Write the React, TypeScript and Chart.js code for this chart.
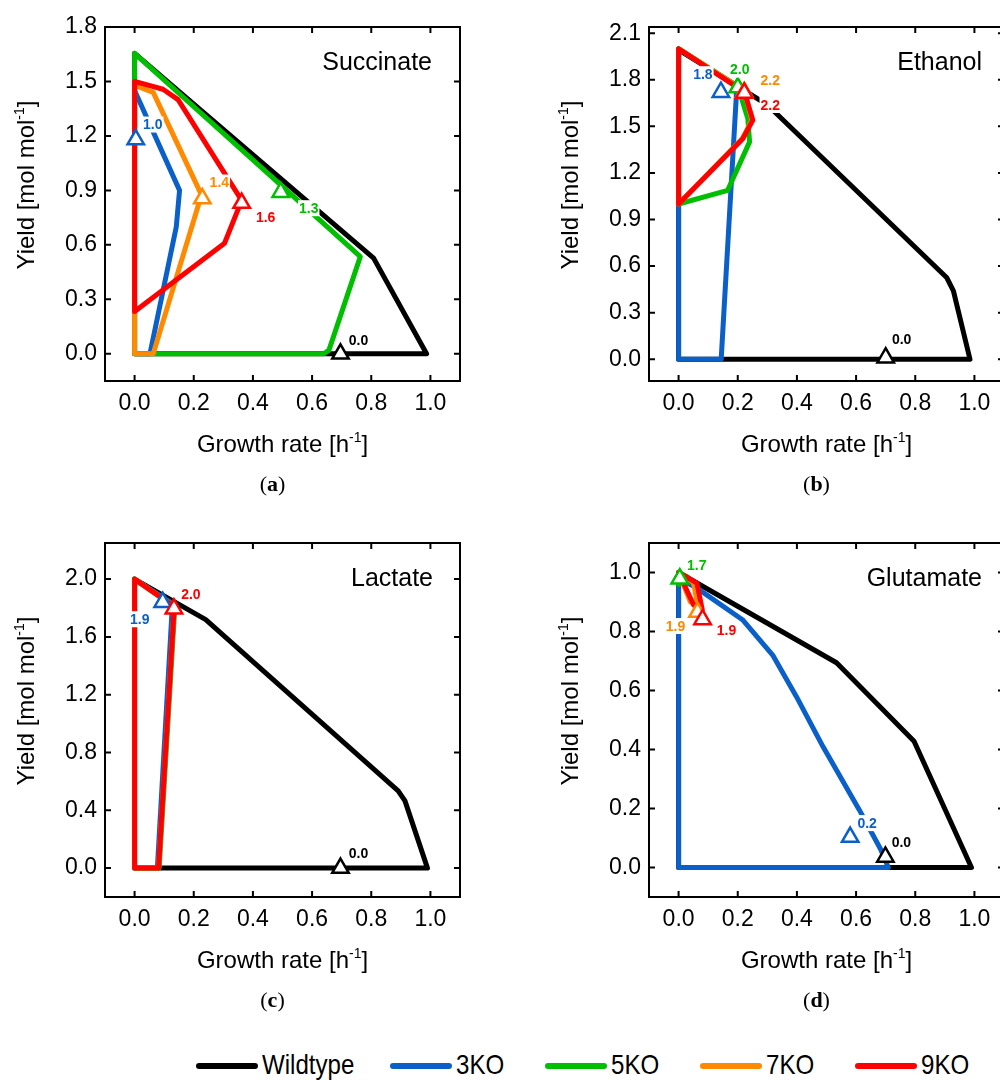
import React, { useEffect, useRef } from "react";
import { Chart, registerables } from "chart.js";
Chart.register(...registerables);

const FONT = '"Liberation Sans", Arial, Helvetica, sans-serif';
const SERIF = '"Liberation Serif", "Times New Roman", serif';

const SERIES_NAMES = ["Wildtype", "3KO", "5KO", "7KO", "9KO"];
const SERIES_COLORS = ["#000000", "#0a60c8", "#00be00", "#ff8a00", "#ff0000"];
const X_TICKS = [0, 0.2, 0.4, 0.6, 0.8, 1.0];

// (a) Succinate
const SUC_Y_TICKS = [0, 0.3, 0.6, 0.9, 1.2, 1.5, 1.8];
const SUC_WT = [[0, 0], [0, 1.655], [0.808, 0.527], [0.987, 0], [0, 0]];
const SUC_3KO = [[0, 0], [0, 1.45], [0.152, 0.9], [0.141, 0.7], [0.052, 0], [0, 0]];
const SUC_5KO = [[0, 0], [0, 1.655], [0.763, 0.535], [0.657, 0.02], [0.64, 0], [0, 0]];
const SUC_7KO = [[0, 0], [0, 1.48], [0.063, 1.44], [0.226, 0.875], [0.063, 0], [0, 0]];
const SUC_9KO = [[0, 0.233], [0, 1.5], [0.096, 1.457], [0.147, 1.4], [0.362, 0.845], [0.304, 0.609], [0, 0.233]];
const SUC_MARKERS = [[0.696, 0], [0.004, 1.18], [0.494, 0.89], [0.229, 0.855], [0.362, 0.83]];
const SUC_MARK_TEXT = ["0.0", "1.0", "1.3", "1.4", "1.6"];

// (b) Ethanol
const ETH_Y_TICKS = [0, 0.3, 0.6, 0.9, 1.2, 1.5, 1.8, 2.1];
const ETH_WT = [[0, 0], [0, 1.993], [0.298, 1.642], [0.906, 0.527], [0.929, 0.44], [0.985, 0], [0, 0]];
const ETH_3KO = [[0, 0], [0, 2.0], [0.195, 1.76], [0.195, 1.69], [0.144, 0], [0, 0]];
const ETH_5KO = [[0, 1.0], [0, 2.0], [0.2, 1.76], [0.234, 1.55], [0.24, 1.4], [0.166, 1.088], [0, 1.0]];
const ETH_7KO = [[0, 1.0], [0, 2.0], [0.222, 1.73], [0.248, 1.54], [0.215, 1.42], [0, 1.0]];
const ETH_9KO = [[0, 1.0], [0, 2.0], [0.223, 1.72], [0.251, 1.54], [0.217, 1.42], [0, 1.0]];
const ETH_MARKERS = [[0.7, 0.01], [0.143, 1.72], [0.2, 1.75], [0.222, 1.72], [0.222, 1.715]];
const ETH_MARK_TEXT = ["0.0", "1.8", "2.0", "2.2", "2.2"];

// (c) Lactate
const LAC_Y_TICKS = [0, 0.4, 0.8, 1.2, 1.6, 2.0];
const LAC_WT = [[0, 0], [0, 2.0], [0.2405, 1.72], [0.891, 0.534], [0.914, 0.465], [0.99, 0], [0, 0]];
const LAC_3KO = [[0, 0], [0, 2.0], [0.128, 1.83], [0.077, 0], [0, 0]];
const LAC_5KO = [[0, 0], [0, 2.0], [0.136, 1.81], [0.083, 0], [0, 0]];
const LAC_7KO = [[0, 0], [0, 2.0], [0.134, 1.81], [0.081, 0], [0, 0]];
const LAC_9KO = [[0, 0], [0, 2.0], [0.134, 1.81], [0.081, 0], [0, 0]];
const LAC_MARKERS = [[0.696, 0], [0.095, 1.84], null, null, [0.133, 1.795]];
const LAC_MARK_TEXT = ["0.0", "1.9", null, null, "2.0"];

// (d) Glutamate
const GLU_Y_TICKS = [0, 0.2, 0.4, 0.6, 0.8, 1.0];
const GLU_WT = [[0, 0], [0, 1.0], [0.534, 0.694], [0.796, 0.428], [0.99, 0], [0, 0]];
const GLU_3KO = [[0, 0], [0, 0.98], [0.062, 0.947], [0.216, 0.84], [0.318, 0.72], [0.398, 0.58], [0.488, 0.41], [0.61, 0.197], [0.683, 0.062], [0.709, 0], [0, 0]];
const GLU_5KO = [[0, 0.96], [0, 1.0], [0.03, 0.985], [0, 0.96]];
const GLU_7KO = [[0, 1.0], [0.05, 0.965], [0.065, 0.89], [0.04, 0.9], [0, 1.0]];
const GLU_9KO = [[0, 1.0], [0.062, 0.964], [0.08, 0.874], [0.051, 0.89], [0, 1.0]];
const GLU_MARKERS = [[0.699, 0.036], [0.58, 0.103], [0.004, 0.979], [0.064, 0.866], [0.081, 0.841]];
const GLU_MARK_TEXT = ["0.0", "0.2", "1.7", "1.9", "1.9"];

// ---- layout / style (not data) ----
const CANVAS_W = 480;
const CANVAS_H = 500;
const FRAME = { left: 105, top: 27, right: 460, bottom: 381 };

const PANELS = [
  {
    key: "a", name: "Succinate", nameRight: 28, left: 0, top: 0,
    xRange: [-0.1, 1.1], yRange: [-0.15, 1.8], yTicks: SUC_Y_TICKS,
    lines: [SUC_WT, SUC_3KO, SUC_5KO, SUC_7KO, SUC_9KO],
    markers: SUC_MARKERS, markText: SUC_MARK_TEXT,
    labelOffsets: [[18, -14], [17, -15], [28, 16], [17, -16], [24, 14]],
  },
  {
    key: "b", name: "Ethanol", nameRight: 22, left: 544, top: 0,
    xRange: [-0.1, 1.1], yRange: [-0.14, 2.14], yTicks: ETH_Y_TICKS,
    lines: [ETH_WT, ETH_3KO, ETH_5KO, ETH_7KO, ETH_9KO],
    markers: ETH_MARKERS, markText: ETH_MARK_TEXT,
    labelOffsets: [[16, -19], [-18, -18], [2, -18], [26, -12], [26, 12]],
  },
  {
    key: "c", name: "Lactate", nameRight: 27, left: 0, top: 516,
    xRange: [-0.1, 1.1], yRange: [-0.2, 2.25], yTicks: LAC_Y_TICKS,
    lines: [LAC_WT, LAC_3KO, LAC_5KO, LAC_7KO, LAC_9KO],
    markers: LAC_MARKERS, markText: LAC_MARK_TEXT,
    labelOffsets: [[18, -15], [-23, 17], [0, 0], [0, 0], [17, -15]],
  },
  {
    key: "d", name: "Glutamate", nameRight: 22, left: 544, top: 516,
    xRange: [-0.1, 1.1], yRange: [-0.1, 1.1], yTicks: GLU_Y_TICKS,
    lines: [GLU_WT, GLU_3KO, GLU_5KO, GLU_7KO, GLU_9KO],
    markers: GLU_MARKERS, markText: GLU_MARK_TEXT,
    labelOffsets: [[16, -15], [17, -14], [17, -14], [-22, 14], [24, 11]],
  },
];

const LEGEND_X = [196, 390, 545, 700, 855];

function drawRich(ctx, parts, cx, cy, size, rotate) {
  ctx.save();
  ctx.translate(cx, cy);
  if (rotate) ctx.rotate(-Math.PI / 2);
  const supSize = Math.round(size * 0.6);
  const widths = parts.map((p) => {
    ctx.font = `${p[1] ? supSize : size}px ${FONT}`;
    return ctx.measureText(p[0]).width;
  });
  const total = widths.reduce((s, w) => s + w, 0);
  let x = -total / 2;
  const base = size * 0.36;
  ctx.textBaseline = "alphabetic";
  ctx.textAlign = "left";
  ctx.fillStyle = "#000";
  parts.forEach((p, i) => {
    ctx.font = `${p[1] ? supSize : size}px ${FONT}`;
    ctx.fillText(p[0], x, p[1] ? base - size * 0.4 : base);
    x += widths[i];
  });
  ctx.restore();
}

function Panel({ cfg }) {
  const ref = useRef(null);
  useEffect(() => {
    const datasets = [];
    cfg.lines.forEach((pts, i) => {
      datasets.push({
        label: SERIES_NAMES[i],
        data: pts.map((p) => ({ x: p[0], y: p[1] })),
        showLine: true,
        borderColor: SERIES_COLORS[i],
        backgroundColor: SERIES_COLORS[i],
        borderWidth: 5,
        pointRadius: 0,
        tension: 0,
        fill: false,
        borderJoinStyle: "round",
        borderCapStyle: "round",
        order: 10 - i,
      });
    });
    cfg.markers.forEach((m, i) => {
      if (!m) return;
      datasets.push({
        label: SERIES_NAMES[i] + " marker",
        data: [{ x: m[0], y: m[1] }],
        showLine: false,
        pointStyle: "triangle",
        pointRadius: 9.5,
        pointBorderWidth: 2.5,
        pointBackgroundColor: "#ffffff",
        pointBorderColor: SERIES_COLORS[i],
        borderColor: SERIES_COLORS[i],
        order: 4 - i,
      });
    });

    const decor = {
      id: "decor",
      afterDraw(chart) {
        const { ctx, chartArea: a, scales } = chart;
        const xs = scales.x, ys = scales.y;
        ctx.save();
        ctx.strokeStyle = "#000";
        ctx.lineWidth = 2;
        ctx.strokeRect(a.left, a.top, a.right - a.left, a.bottom - a.top);
        const TL = 6;
        ctx.beginPath();
        X_TICKS.forEach((v) => {
          const px = xs.getPixelForValue(v);
          ctx.moveTo(px, a.bottom); ctx.lineTo(px, a.bottom - TL);
          ctx.moveTo(px, a.top); ctx.lineTo(px, a.top + TL);
        });
        cfg.yTicks.forEach((v) => {
          const py = ys.getPixelForValue(v);
          ctx.moveTo(a.left, py); ctx.lineTo(a.left + TL, py);
          ctx.moveTo(a.right, py); ctx.lineTo(a.right - TL, py);
        });
        ctx.stroke();
        ctx.font = `bold 14px ${FONT}`;
        ctx.textAlign = "center";
        ctx.textBaseline = "middle";
        cfg.markers.forEach((m, i) => {
          const t = cfg.markText[i];
          if (!m || !t) return;
          const px = xs.getPixelForValue(m[0]) + cfg.labelOffsets[i][0];
          const py = ys.getPixelForValue(m[1]) + cfg.labelOffsets[i][1];
          const w = ctx.measureText(t).width;
          ctx.fillStyle = "#fff";
          ctx.fillRect(px - w / 2 - 1, py - 8, w + 2, 16);
          ctx.fillStyle = SERIES_COLORS[i];
          ctx.fillText(t, px, py + 1);
        });
        ctx.font = `25px ${FONT}`;
        ctx.textAlign = "right";
        ctx.textBaseline = "alphabetic";
        ctx.fillStyle = "#000";
        ctx.fillText(cfg.name, a.right - cfg.nameRight, a.top + 43);
        const cx = (a.left + a.right) / 2;
        drawRich(ctx, [["Growth rate [h", false], ["-1", true], ["]", false]], cx, a.bottom + 62, 24, false);
        drawRich(ctx, [["Yield [mol mol", false], ["-1", true], ["]", false]], a.left - 80, a.top + 158, 24, true);
        ctx.fillStyle = "#000";
        ctx.textBaseline = "alphabetic";
        ctx.textAlign = "left";
        const capParts = [["(", false], [cfg.key, true], [")", false]];
        const capW = capParts.map((p) => {
          ctx.font = `${p[1] ? "bold " : ""}22px ${SERIF}`;
          return ctx.measureText(p[0]).width;
        });
        let capX = cx - 10 - capW.reduce((s, w) => s + w, 0) / 2;
        capParts.forEach((p, i) => {
          ctx.font = `${p[1] ? "bold " : ""}22px ${SERIF}`;
          ctx.fillText(p[0], capX, a.bottom + 110);
          capX += capW[i];
        });
        ctx.restore();
      },
    };

    const chart = new Chart(ref.current, {
      type: "scatter",
      data: { datasets },
      plugins: [decor],
      options: {
        responsive: false,
        maintainAspectRatio: false,
        animation: false,
        layout: { padding: { left: 0, top: FRAME.top, right: CANVAS_W - FRAME.right, bottom: 0 } },
        plugins: { legend: { display: false }, tooltip: { enabled: false } },
        scales: {
          x: {
            type: "linear",
            position: "bottom",
            min: cfg.xRange[0],
            max: cfg.xRange[1],
            afterBuildTicks: (s) => { s.ticks = X_TICKS.map((v) => ({ value: v })); },
            afterFit: (s) => { s.height = CANVAS_H - FRAME.bottom; },
            grid: { display: false, drawTicks: false },
            border: { display: false },
            ticks: {
              color: "#000", padding: 9, maxRotation: 0, autoSkip: false,
              font: { family: FONT, size: 23 },
              callback: (v) => Number(v).toFixed(1),
            },
          },
          y: {
            type: "linear",
            position: "left",
            min: cfg.yRange[0],
            max: cfg.yRange[1],
            afterBuildTicks: (s) => { s.ticks = cfg.yTicks.map((v) => ({ value: v })); },
            afterFit: (s) => { s.width = FRAME.left; },
            grid: { display: false, drawTicks: false },
            border: { display: false },
            ticks: {
              color: "#000", padding: 8, autoSkip: false,
              font: { family: FONT, size: 23 },
              callback: (v) => Number(v).toFixed(1),
            },
          },
        },
      },
    });
    return () => chart.destroy();
  }, [cfg]);
  return (
    <canvas
      ref={ref}
      width={CANVAS_W}
      height={CANVAS_H}
      style={{ position: "absolute", left: cfg.left, top: cfg.top, width: CANVAS_W, height: CANVAS_H }}
    />
  );
}

export default function App() {
  return (
    <div style={{ position: "fixed", left: 0, top: 0, width: 1000, height: 1080, overflow: "hidden", background: "#fff" }}>
      {PANELS.map((p) => (
        <Panel key={p.key} cfg={p} />
      ))}
      {SERIES_NAMES.map((n, i) => (
        <React.Fragment key={n}>
          <div style={{ position: "absolute", left: LEGEND_X[i], top: 1063, width: 62, height: 6, borderRadius: 3, background: SERIES_COLORS[i] }} />
          <div style={{ position: "absolute", left: LEGEND_X[i] + 66, top: 1050, fontFamily: FONT, fontSize: 28, lineHeight: "30px", color: "#000", whiteSpace: "nowrap", transform: "scaleX(0.86)", transformOrigin: "left center" }}>{n}</div>
        </React.Fragment>
      ))}
    </div>
  );
}
